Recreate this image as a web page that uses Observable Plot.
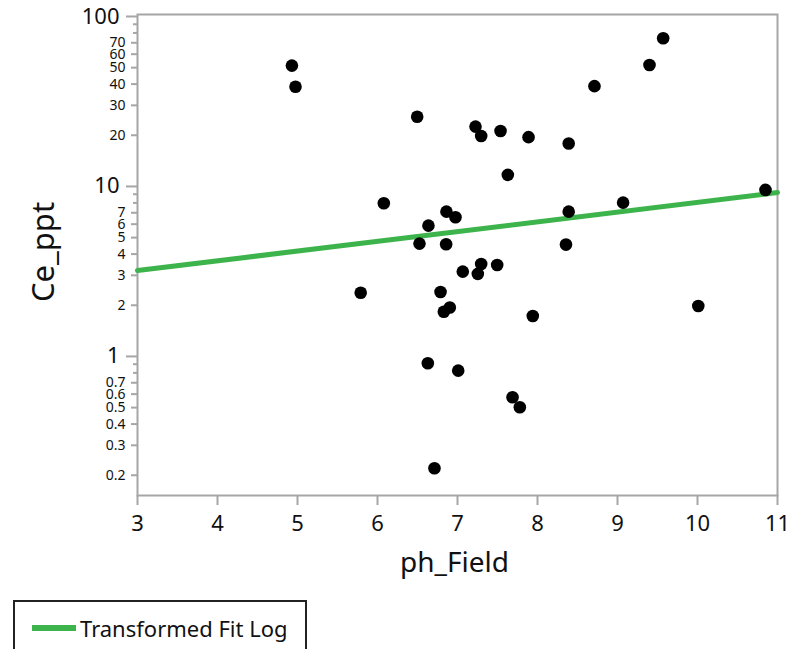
<!DOCTYPE html>
<html>
<head>
<meta charset="utf-8">
<script src="https://cdn.jsdelivr.net/npm/d3@7"></script>
<script src="https://cdn.jsdelivr.net/npm/@observablehq/plot@0.6"></script>
<style>
  html, body { margin: 0; padding: 0; background: #fff; }
  body { width: 788px; height: 649px; overflow: hidden; font-family: "Noto Sans", sans-serif; }
  #legend {
    position: absolute; left: 13px; top: 600px; width: 294px; height: 60px;
    border: 2px solid #222; box-sizing: border-box; background: #fff;
  }
  #legend .sw { position: absolute; left: 17px; top: 23px; width: 44px; height: 6px; background: #3cb44b; }
  #legend .lb { position: absolute; left: 65px; top: 11px; font-size: 22px; line-height: normal; color: #111; white-space: nowrap; font-family: "Noto Sans", sans-serif; }
</style>
</head>
<body>
<div id="chart"></div>
<div id="legend"><div class="sw"></div><div class="lb">Transformed Fit Log</div></div>
<script>
// Data
const phField = [4.93, 4.975, 6.496, 7.225, 7.296, 7.538, 7.629, 6.079, 6.862, 6.975, 6.637, 6.525, 6.858,
  7.066, 7.296, 7.254, 7.496, 5.79, 6.788, 6.904, 6.829, 6.629, 7.009, 7.688, 7.779, 6.712,
  9.571, 9.4, 8.712, 7.888, 8.39, 10.85, 9.07, 8.39, 8.356, 7.941, 10.01];
const cePpt = [51.4, 38.6, 25.7, 22.5, 19.8, 21.2, 11.7, 7.96, 7.11, 6.59, 5.88, 4.61, 4.57,
  3.155, 3.5, 3.06, 3.45, 2.37, 2.395, 1.94, 1.83, 0.912, 0.825, 0.575, 0.502, 0.22,
  74.5, 51.8, 38.9, 19.5, 17.9, 9.54, 8.03, 7.11, 4.55, 1.73, 1.98];

// Transformed fit (log) endpoints
const fitX = [3, 11];
const fitY = [3.2, 9.2];

// Tick values
const xTicks = [3, 4, 5, 6, 7, 8, 9, 10, 11];
const yMajor = [1, 10, 100];
const yMinorLabeled = [0.2, 0.3, 0.4, 0.5, 0.6, 0.7, 2, 3, 4, 5, 6, 7, 20, 30, 40, 50, 60, 70];
const yMinorUnlabeled = [0.8, 0.9, 8, 9, 80, 90];

const points = phField.map((x, i) => ({x, y: cePpt[i]}));
const fit = fitX.map((x, i) => ({x, y: fitY[i]}));

const axisGray = "#a6a6a6";
const ink = "#111";

const chart = Plot.plot({
  width: 788,
  height: 590,
  marginLeft: 137,
  marginRight: 11,
  marginTop: 14,
  marginBottom: 95,
  style: {fontFamily: "'Noto Sans', sans-serif", background: "#fff", color: ink},
  x: {domain: [3, 11], label: null},
  y: {type: "log", domain: [0.152, 102.7], label: null},
  marks: [
    Plot.axisX(xTicks, {tickSize: 10, tickPadding: 10, fontSize: 22, stroke: axisGray, fill: ink, strokeWidth: 2, label: null}),
    Plot.axisY(yMajor, {tickSize: 11, stroke: axisGray, strokeWidth: 2, tickFormat: () => "", label: null}),
    Plot.axisY(yMinorLabeled, {tickSize: 6, stroke: axisGray, strokeWidth: 2, tickFormat: () => "", label: null}),
    Plot.axisY(yMinorUnlabeled, {tickSize: 4, stroke: axisGray, strokeWidth: 2, tickFormat: () => "", label: null}),
    Plot.text(yMajor, {y: d => d, text: d => String(d), frameAnchor: "left", textAnchor: "end", lineAnchor: "middle", dx: -18, fontSize: 22, fill: ink}),
    Plot.text(yMinorLabeled, {y: d => d, text: d => String(d), frameAnchor: "left", textAnchor: "end", lineAnchor: "middle", dx: -12, fontSize: 14, fill: ink}),
    Plot.frame({stroke: axisGray, strokeWidth: 2}),
    Plot.line(fit, {x: "x", y: "y", stroke: "#3cb44b", strokeWidth: 5}),
    Plot.dot(points, {x: "x", y: "y", r: 6.3, fill: "black", stroke: "none"}),
    Plot.text(["Ce_ppt"], {frameAnchor: "left", textAnchor: "middle", lineAnchor: "middle", dx: -93, dy: -3, rotate: -90, fontSize: 31, fill: ink}),
    Plot.text(["ph_Field"], {frameAnchor: "bottom", textAnchor: "middle", lineAnchor: "middle", dx: -3, dy: 68, fontSize: 28, fill: ink})
  ]
});
document.getElementById("chart").appendChild(chart);
</script>
</body>
</html>
